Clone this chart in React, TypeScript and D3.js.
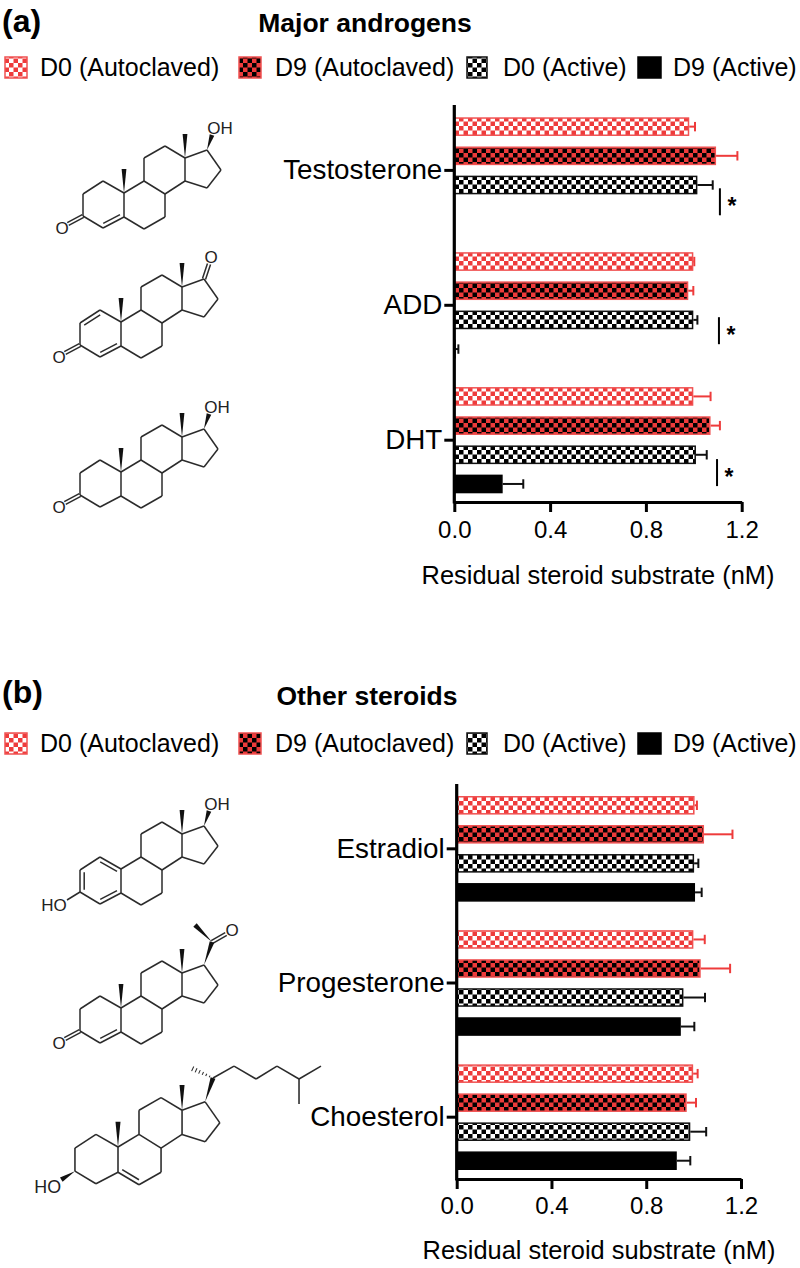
import { useEffect, useRef } from "react";
import * as d3 from "d3";

const seriesNames = ["D0 (Autoclaved)", "D9 (Autoclaved)", "D0 (Active)", "D9 (Active)"];
const xTicks = [0, 0.4, 0.8, 1.2];

// panel a, one row per series, one value per steroid
const categoriesA = ["Testosterone", "ADD", "DHT"];
const meansA = [
  [0.981, 0.998, 0.998],
  [1.093, 0.977, 1.07],
  [1.015, 0.998, 1.009],
  [0, 0.006, 0.202],
];
const errorEndsA = [
  [1.005, 1.002, 1.07],
  [1.182, 0.998, 1.109],
  [1.079, 1.015, 1.054],
  [0, 0.017, 0.288],
];
const sigValuesA = [1.109, 1.105, 1.097];
const sigOffsetsA = [71, 65, 72];

// panel b
const categoriesB = ["Estradiol", "Progesterone", "Choesterol"];
const meansB = [
  [1.004, 0.999, 0.998],
  [1.044, 1.03, 0.971],
  [1.002, 0.957, 0.986],
  [1.006, 0.946, 0.929],
];
const errorEndsB = [
  [1.014, 1.047, 1.017],
  [1.164, 1.154, 1.01],
  [1.02, 1.048, 1.053],
  [1.034, 1.003, 0.986],
];

const RED = "#ee3b3b";
const FONT = "'Liberation Sans', Arial, sans-serif";
const seriesFill = ["url(#checkWhiteRed)", "url(#checkRedBlack)", "url(#checkWhiteBlack)", "#000"];
const seriesStroke = ["#f05252", "#f05252", "#111", "#000"];
const errorStroke = [RED, RED, "#111", "#111"];

const legendSwatchX = [5, 239, 467, 638];
const legendSwatchW = [22, 22, 20, 23];
const legendTextX = [40, 275, 503, 673];

type Pt = [number, number];

// steroid skeleton, px offsets from C10
const atoms: Record<string, Pt> = {
  C10: [0, 0], C1: [-21, -12], C2: [-41, 1], C3: [-41, 23], C4: [-21, 35], C5: [0, 24],
  C6: [20, 36], C7: [41, 24], C8: [41, 1], C9: [20, -12], C11: [20, -35], C12: [41, -47],
  C13: [61, -35], C14: [61, -12], C15: [83, -5], C16: [97, -23], C17: [83, -43],
};
const ringBonds = [
  ["C10", "C1"], ["C1", "C2"], ["C2", "C3"], ["C3", "C4"], ["C4", "C5"], ["C5", "C10"],
  ["C5", "C6"], ["C6", "C7"], ["C7", "C8"], ["C8", "C9"], ["C9", "C10"],
  ["C9", "C11"], ["C11", "C12"], ["C12", "C13"], ["C13", "C14"], ["C14", "C8"],
  ["C13", "C17"], ["C17", "C16"], ["C16", "C15"], ["C15", "C14"],
];
const ringA: Pt = [-20, 12];
const ringB: Pt = [20, 12];
const me10: Pt = [0, -24];
const me13: Pt = [61, -59];

type Mol = {
  at: Pt;
  scale?: number;
  wedges: [Pt, Pt][];
  inner?: [string, string, Pt][];
  outer?: [Pt, Pt][];
  plain?: [Pt, Pt][];
  hashed?: [Pt, Pt][];
  labels: [string, number, number][];
};

const c = (k: string) => atoms[k];

const moleculesA: Mol[] = [
  {
    at: [124, 193],
    wedges: [[c("C10"), me10], [c("C13"), me13], [c("C17"), [88, -58]]],
    inner: [["C4", "C5", ringA]],
    outer: [[c("C3"), [-56, 31]]],
    labels: [["OH", 96, -65], ["O", -62, 35]],
  },
  {
    at: [121, 322],
    wedges: [[c("C10"), me10], [c("C13"), me13]],
    inner: [["C4", "C5", ringA], ["C1", "C2", ringA]],
    outer: [[c("C3"), [-56, 31]], [c("C17"), [88, -58]]],
    labels: [["O", 90, -65], ["O", -62, 35]],
  },
  {
    at: [121, 472],
    wedges: [[c("C10"), me10], [c("C13"), me13], [c("C17"), [88, -58]]],
    outer: [[c("C3"), [-56, 31]]],
    labels: [["OH", 96, -65], ["O", -62, 35]],
  },
];

const moleculesB: Mol[] = [
  {
    at: [121, 869],
    wedges: [[c("C13"), me13], [c("C17"), [88, -58]]],
    inner: [["C4", "C5", ringA], ["C1", "C10", ringA], ["C2", "C3", ringA]],
    plain: [[c("C3"), [-54, 31]]],
    labels: [["OH", 96, -65], ["HO", -67, 36]],
  },
  {
    at: [121, 1008],
    wedges: [[c("C10"), me10], [c("C13"), me13], [c("C17"), [91, -66]], [[91, -66], [74, -83]]],
    inner: [["C4", "C5", ringA]],
    outer: [[c("C3"), [-56, 31]], [[91, -66], [105, -74]]],
    labels: [["O", 111, -78], ["O", -62, 35]],
  },
  {
    at: [118, 1147],
    scale: 1.05,
    wedges: [[c("C10"), me10], [c("C13"), me13], [c("C17"), [90.5, -65.7]], [c("C3"), [-54, 31]]],
    inner: [["C5", "C6", ringB]],
    plain: [
      [[90.5, -65.7], [110.5, -77]], [[110.5, -77], [131.5, -64.8]], [[131.5, -64.8], [151.4, -77]],
      [[151.4, -77], [172.4, -64.8]], [[172.4, -64.8], [193.3, -77]], [[172.4, -64.8], [172.4, -41]],
    ],
    hashed: [[[90.5, -65.7], [69.5, -75.2]]],
    labels: [["HO", -67, 38]],
  },
];

const lineInk = "#2b2b2b";

function drawMolecule(root: any, mol: Mol) {
  const s = mol.scale ?? 1;
  const g = root.append("g").attr("transform", `translate(${mol.at[0]},${mol.at[1]}) scale(${s})`);
  const bond = (a: Pt, b: Pt, w = 1.5) =>
    g.append("line")
      .attr("x1", a[0]).attr("y1", a[1]).attr("x2", b[0]).attr("y2", b[1])
      .attr("stroke", lineInk).attr("stroke-width", w);

  ringBonds.forEach(([a, b]) => bond(c(a), c(b)));

  (mol.inner ?? []).forEach(([a, b, center]) => {
    const toward = (p: Pt): Pt => [p[0] + (center[0] - p[0]) * 0.2, p[1] + (center[1] - p[1]) * 0.2];
    bond(toward(c(a)), toward(c(b)));
  });

  (mol.outer ?? []).forEach(([a, b]) => {
    const dx = b[0] - a[0];
    const dy = b[1] - a[1];
    const len = Math.hypot(dx, dy);
    const nx = (-dy / len) * 1.6;
    const ny = (dx / len) * 1.6;
    bond([a[0] + nx, a[1] + ny], [b[0] + nx, b[1] + ny]);
    bond([a[0] - nx, a[1] - ny], [b[0] - nx, b[1] - ny]);
  });

  (mol.plain ?? []).forEach(([a, b]) => bond(a, b));

  mol.wedges.forEach(([a, b]) => {
    const dx = b[0] - a[0];
    const dy = b[1] - a[1];
    const len = Math.hypot(dx, dy);
    const nx = (-dy / len) * 2.4;
    const ny = (dx / len) * 2.4;
    g.append("polygon")
      .attr("points", `${a[0]},${a[1]} ${b[0] + nx},${b[1] + ny} ${b[0] - nx},${b[1] - ny}`)
      .attr("fill", "#111");
  });

  (mol.hashed ?? []).forEach(([a, b]) => {
    d3.range(1, 7).forEach((i) => {
      const t = i / 6.5;
      const px = a[0] + (b[0] - a[0]) * t;
      const py = a[1] + (b[1] - a[1]) * t;
      const half = 0.6 + t * 2;
      bond([px - half * 0.42, py + half * 0.9], [px + half * 0.42, py - half * 0.9], 1);
    });
  });

  mol.labels.forEach(([text, x, y]) => {
    g.append("text")
      .attr("x", x).attr("y", y + 6)
      .attr("text-anchor", "middle")
      .attr("font-family", FONT).attr("font-size", 17).attr("fill", "#222")
      .text(text);
  });
}

type Panel = {
  tag: string;
  tagY: number;
  title: string;
  titleX: number;
  titleY: number;
  legendY: number;
  categories: string[];
  means: number[][];
  errorEnds: number[][];
  x0: number;
  x1: number;
  axisTop: number;
  axisBottom: number;
  barTop: number;
  barBottom: number;
  tickBaseline: number;
  labelBaseline: number;
  labelX: number;
  molecules: Mol[];
  sigValues?: number[];
  sigOffsets?: number[];
};

const panels: Panel[] = [
  {
    tag: "(a)", tagY: 32, title: "Major androgens", titleX: 365, titleY: 32, legendY: 57,
    categories: categoriesA, means: meansA, errorEnds: errorEndsA,
    x0: 454.3, x1: 741.7, axisTop: 105, axisBottom: 502, barTop: 117.3, barBottom: 493.3,
    tickBaseline: 538, labelBaseline: 584, labelX: 598, molecules: moleculesA,
    sigValues: sigValuesA, sigOffsets: sigOffsetsA,
  },
  {
    tag: "(b)", tagY: 703, title: "Other steroids", titleX: 367, titleY: 705, legendY: 733,
    categories: categoriesB, means: meansB, errorEnds: errorEndsB,
    x0: 456.7, x1: 741, axisTop: 784, axisBottom: 1179, barTop: 796, barBottom: 1170,
    tickBaseline: 1214, labelBaseline: 1259, labelX: 599, molecules: moleculesB,
  },
];

function addPattern(defs: any, id: string, a: string, b: string) {
  const cell = 4.5;
  const p = defs.append("pattern")
    .attr("id", id)
    .attr("patternUnits", "userSpaceOnUse")
    .attr("width", cell * 2).attr("height", cell * 2);
  p.append("rect").attr("width", cell * 2).attr("height", cell * 2).attr("fill", a);
  p.append("rect").attr("width", cell).attr("height", cell).attr("fill", b);
  p.append("rect").attr("x", cell).attr("y", cell).attr("width", cell).attr("height", cell).attr("fill", b);
}

function drawPanel(svg: any, panel: Panel) {
  const root = svg.append("g");

  root.append("text")
    .attr("x", 2).attr("y", panel.tagY)
    .attr("font-family", FONT).attr("font-weight", 700).attr("font-size", 32)
    .text(panel.tag);

  root.append("text")
    .attr("x", panel.titleX).attr("y", panel.titleY)
    .attr("text-anchor", "middle")
    .attr("font-family", FONT).attr("font-weight", 700).attr("font-size", 26.5)
    .text(panel.title);

  seriesNames.forEach((name, i) => {
    root.append("rect")
      .attr("x", legendSwatchX[i]).attr("y", panel.legendY)
      .attr("width", legendSwatchW[i]).attr("height", 21)
      .attr("fill", seriesFill[i])
      .attr("stroke", seriesStroke[i]).attr("stroke-width", 1.5);
    root.append("text")
      .attr("x", legendTextX[i]).attr("y", panel.legendY + 19)
      .attr("font-family", FONT).attr("font-size", 25)
      .text(name);
  });

  const x = d3.scaleLinear().domain([0, 1.2]).range([panel.x0, panel.x1]);
  const y = d3.scaleBand<string>()
    .domain(panel.categories)
    .range([panel.barTop, panel.barBottom])
    .paddingInner(0.2126);
  const ySeries = d3.scaleBand<string>()
    .domain(seriesNames)
    .range([0, y.bandwidth()])
    .paddingInner(0.36);

  const rows = panel.categories.flatMap((cat, ci) =>
    seriesNames.map((name, si) => ({
      cat, name, si,
      mean: panel.means[si][ci],
      end: panel.errorEnds[si][ci],
    }))
  );
  const barY = (d: any) => (y(d.cat) as number) + (ySeries(d.name) as number);
  const midY = (d: any) => barY(d) + ySeries.bandwidth() / 2;
  const visible = rows.filter((d) => d.mean > 0);

  // error bars under the bars
  const err = root.append("g");
  err.selectAll("line.whisker").data(visible).join("line")
    .attr("class", "whisker")
    .attr("x1", (d: any) => x(d.mean)).attr("x2", (d: any) => x(d.end))
    .attr("y1", midY).attr("y2", midY)
    .attr("stroke", (d: any) => errorStroke[d.si]).attr("stroke-width", 2);
  err.selectAll("line.cap").data(visible).join("line")
    .attr("class", "cap")
    .attr("x1", (d: any) => x(d.end)).attr("x2", (d: any) => x(d.end))
    .attr("y1", (d: any) => midY(d) - 4.7).attr("y2", (d: any) => midY(d) + 4.7)
    .attr("stroke", (d: any) => errorStroke[d.si]).attr("stroke-width", 2);

  root.append("g").selectAll("rect").data(visible).join("rect")
    .attr("x", panel.x0)
    .attr("y", (d: any) => barY(d) + 0.75)
    .attr("width", (d: any) => Math.max(x(d.mean) - panel.x0 - 0.75, 0))
    .attr("height", ySeries.bandwidth() - 1.5)
    .attr("fill", (d: any) => seriesFill[d.si])
    .attr("stroke", (d: any) => seriesStroke[d.si]).attr("stroke-width", 1.5);

  const xAxis = root.append("g")
    .attr("transform", `translate(0,${panel.axisBottom})`)
    .call(d3.axisBottom(x).tickValues(xTicks).tickFormat(d3.format(".1f") as any).tickSize(10).tickSizeOuter(0));
  xAxis.select(".domain").attr("stroke", "#000").attr("stroke-width", 3);
  xAxis.selectAll(".tick line").attr("stroke", "#000").attr("stroke-width", 3);
  xAxis.selectAll(".tick text")
    .attr("y", panel.tickBaseline - panel.axisBottom).attr("dy", 0)
    .attr("font-family", FONT).attr("font-size", 24).attr("fill", "#000");

  const yAxis = root.append("g")
    .attr("transform", `translate(${panel.x0},0)`)
    .call(d3.axisLeft(y).tickSize(10).tickSizeOuter(0));
  yAxis.select(".domain").remove();
  yAxis.selectAll(".tick line").attr("stroke", "#000").attr("stroke-width", 3);
  yAxis.selectAll(".tick text")
    .attr("x", -12).attr("dy", 9)
    .attr("font-family", FONT).attr("font-size", 27.8).attr("fill", "#000");
  yAxis.append("line")
    .attr("y1", panel.axisTop).attr("y2", panel.axisBottom + 1.5)
    .attr("stroke", "#000").attr("stroke-width", 3.2);

  root.append("text")
    .attr("x", panel.labelX).attr("y", panel.labelBaseline)
    .attr("text-anchor", "middle")
    .attr("font-family", FONT).attr("font-size", 25.4)
    .text("Residual steroid substrate (nM)");

  (panel.sigValues ?? []).forEach((v, i) => {
    const top = (y(panel.categories[i]) as number) + (panel.sigOffsets as number[])[i];
    root.append("line")
      .attr("x1", x(v)).attr("x2", x(v))
      .attr("y1", top).attr("y2", top + 27)
      .attr("stroke", "#000").attr("stroke-width", 2);
    root.append("text")
      .attr("x", x(v) + 12).attr("y", top + 26)
      .attr("text-anchor", "middle")
      .attr("font-family", FONT).attr("font-weight", 700).attr("font-size", 23)
      .text("*");
  });

  panel.molecules.forEach((m) => drawMolecule(root, m));
}

const App = () => {
  const svgRef = useRef<SVGSVGElement | null>(null);

  useEffect(() => {
    const svg = d3.select(svgRef.current);
    svg.selectAll("*").remove();
    const defs = svg.append("defs");
    addPattern(defs, "checkWhiteRed", "#fff", RED);
    addPattern(defs, "checkRedBlack", RED, "#000");
    addPattern(defs, "checkWhiteBlack", "#fff", "#000");
    panels.forEach((p) => drawPanel(svg, p));
  }, []);

  return (
    <svg
      ref={svgRef}
      width={800}
      height={1268}
      style={{ position: "absolute", left: 0, top: 0, background: "#fff" }}
    />
  );
};

export default App;
